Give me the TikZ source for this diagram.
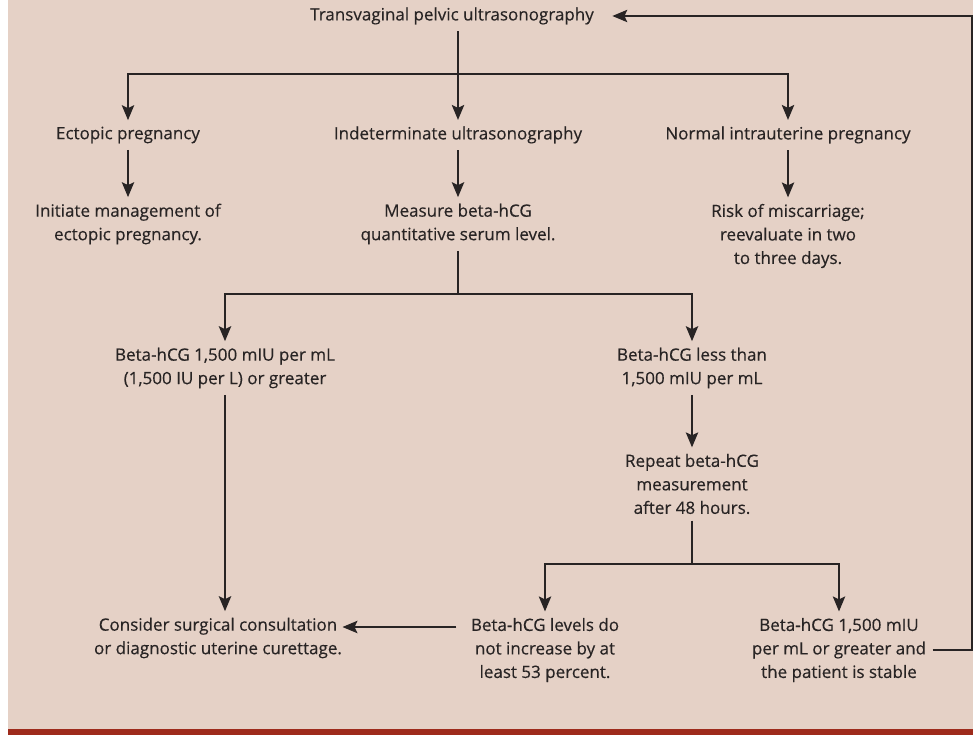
\documentclass[tikz,border=0pt]{standalone}
\usepackage{fontspec}
\setmainfont{Open Sans}
\newfontfamily\flowfont{Open Sans}[FakeBold=0.35]
\usepackage{xcolor}
\usetikzlibrary{arrows.meta,positioning}

\definecolor{bgbeige}{RGB}{229,209,198}
\definecolor{barred}{RGB}{158,43,28}
\definecolor{inkgray}{RGB}{40,36,36}

\begin{document}
\begin{tikzpicture}[->, >={Stealth[length=15pt,width=12.5pt,inset=3pt]}, x=1pt, y=-1pt,
	line width=1.2pt, color=inkgray, font=\flowfont\fontsize{17}{23.5}\selectfont]
	\tikzstyle{every node}=[text=inkgray, align=center, inner sep=6pt]

	% background and bottom bar
	\useasboundingbox (0,0) rectangle (973,735);
	\fill[bgbeige] (8,0) rectangle (973,729);
	\fill[barred] (8,729) rectangle (973,735);

	\node (T) at (452,16) {Transvaginal pelvic ultrasonography};
	\node (E) at (128,135) {Ectopic pregnancy};
	\node (I) at (458,135) {Indeterminate ultrasonography};
	\node (N) at (788,135) {Normal intrauterine pregnancy};
	\node (M) at (128,224) {Initiate management of\\ectopic pregnancy.};
	\node (Q) at (458,224) {Measure beta-hCG\\quantitative serum level.};
	\node (K) at (788,236) {Risk of miscarriage;\\reevaluate in two\\to three days.};
	\node (H) at (225,368) {Beta-hCG 1,500 mIU per mL\\(1,500 IU per L) or greater};
	\node (G) at (692,368) {Beta-hCG less than\\1,500 mIU per mL};
	\node (R) at (692,484) {Repeat beta-hCG\\measurement\\after 48 hours.};
	\node (C) at (218,638) {Consider surgical consultation\\or diagnostic uterine curettage.};
	\node (L) at (545,650) {Beta-hCG levels do\\not increase by at\\least 53 percent.};
	\node (P) at (839,650) {Beta-hCG 1,500 mIU\\per mL or greater and\\the patient is stable};

	\coordinate (j1) at (458,74);
	\coordinate (j2) at (458,294);
	\coordinate (j3) at (692,564);
	\coordinate (rc) at (972,650);

	% first split
	\draw[-] (T.south -| j1) -- (j1);
	\draw (j1) -| (E);
	\draw (j1) -- (I);
	\draw (j1) -| (N);
	\draw (E) -- (M);
	\draw (I) -- (Q);
	\draw (N) -- (K);

	% beta-hCG split
	\draw[-] (Q) -- (j2);
	\draw (j2) -| (H);
	\draw (j2) -| (G);
	\draw (G) -- (R);
	\draw (H) -- (H |- C.north);
	\draw[-] (R) -- (j3);
	\draw (j3) -| (L);
	\draw (j3) -| (P);

	\draw ([yshift=23pt,xshift=-8pt]L.west) -- ([yshift=23pt,xshift=-6pt]L.west -| C.east);
	\draw[shorten >=12pt] (P.east) -- (rc) |- (T.east);

\end{tikzpicture}
\end{document}
